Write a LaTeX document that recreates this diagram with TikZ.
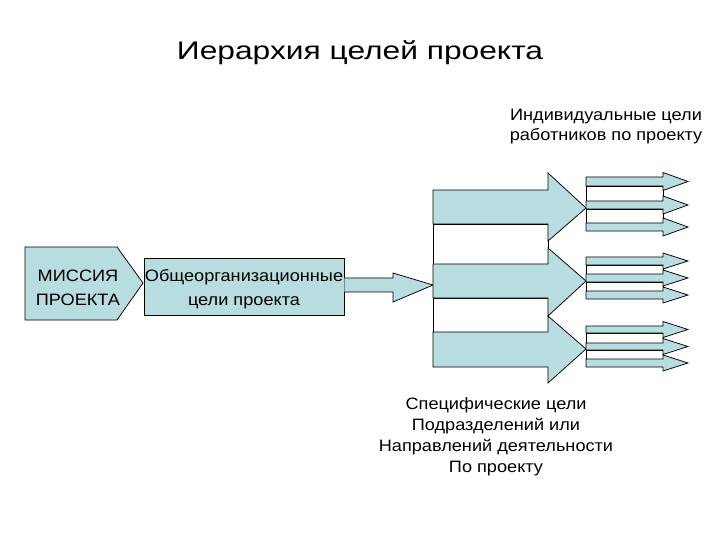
\documentclass[tikz,border=0pt]{standalone}
\usepackage{fontspec}
\setmainfont{Liberation Sans}[FakeStretch=1.10]
\newfontfamily\titlefont{Liberation Sans}[FakeStretch=1.25]
\usetikzlibrary{positioning,calc}
\definecolor{tealfill}{RGB}{184,221,225}
\tikzset{
  blockarrow/.style={draw=black,fill=tealfill,line width=0.75pt,line join=miter},
  gapband/.style={draw=black,fill=white,line width=0.75pt},
  lbl/.style={font=\fontsize{16.5}{21}\selectfont,align=center,inner sep=0pt}
}

\begin{document}
\begin{tikzpicture}[x=1pt,y=-1pt]
\useasboundingbox (0,0) rectangle (720,540);
% Title
\node[font=\titlefont\fontsize{25.4}{30}\selectfont,anchor=base] (title) at (360,60) {Иерархия целей проекта};

% Mission pentagon and the project-wide goals box
\draw[blockarrow] (25,247) -- (117,247) -- (143,283) -- (117,320) -- (25,320) -- cycle;
\node[lbl,font=\fontsize{16.5}{24}\selectfont] (mission) at (78,288) {МИССИЯ\\ПРОЕКТА};
\node[draw,fill=tealfill,line width=0.75pt,minimum width=200pt,minimum height=57pt,inner sep=0pt] (orggoals) at (244,286.5) {};
\node[lbl,font=\fontsize{16.5}{24}\selectfont] (orgtext) at ($(orggoals)+(0,3)$) {Общеорганизационные\\цели проекта};

% Block arrow into the department arrows
\coordinate (bigtip) at (433,285);
\draw[blockarrow] (orggoals.east |- {(0,278)}) -- (393,278) -- (393,273) -- (bigtip) -- (393,302) -- (393,292) -- (orggoals.east |- {(0,292)});

% Department arrows (gaps first, arrows over them)
\draw[gapband] (433,224) rectangle (548,264);
\draw[gapband] (433,298) rectangle (548,332);
\foreach \bt/\bb/\ht/\hb/\ty in {190/224/173/241/208, 264/298/248/316/281, 332/367/316/383/349}
  \draw[blockarrow] (433,\bt) -- (548,\bt) -- (548,\ht) -- (586,\ty) -- (548,\hb) -- (548,\bb) -- (433,\bb) -- cycle;

% Individual arrows
\foreach \a/\b in {186/201, 209/223, 265/274, 282/291, 333/343, 350/359}
  \draw[gapband] (586,\a) rectangle (663,\b);
\foreach \bt/\bb/\h in {177/186/9, 201/209/9, 223/231/9, 257/265/8, 274/282/8, 291/299/8, 326/333/8, 343/350/8, 359/367/8}
  \draw[blockarrow] (586,\bt) -- (663,\bt) -- (663,{(\bt+\bb)/2-\h}) -- (688,{(\bt+\bb)/2}) -- (663,{(\bt+\bb)/2+\h}) -- (663,\bb) -- (586,\bb) -- cycle;

% Labels
\node[lbl,font=\fontsize{16.5}{20}\selectfont] (indiv) at (606,127) {Индивидуальные цели\\работников по проекту};
\node[lbl] (specific) at (496,436.5) {Специфические цели\\Подразделений или\\Направлений деятельности\\По проекту};
\end{tikzpicture}
\end{document}
